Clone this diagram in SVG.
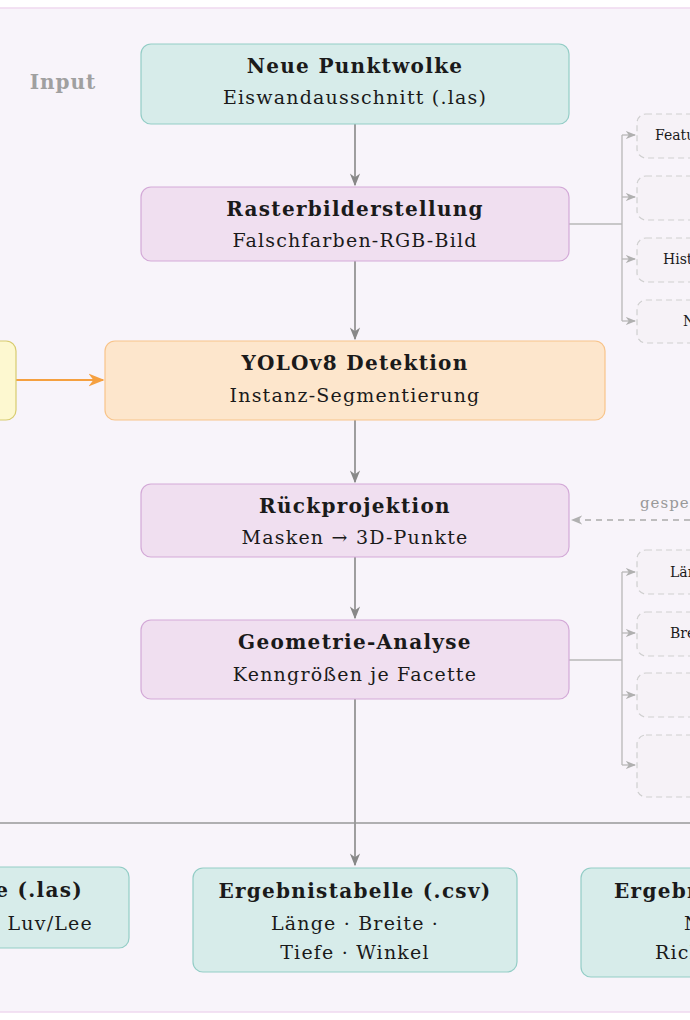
<svg xmlns="http://www.w3.org/2000/svg" width="690" height="1020" viewBox="0 0 690 1020">
<defs>
<style>
text{font-family:"DejaVu Serif","Liberation Serif",serif;fill:#1a1a1a}
.t{font-size:20px;font-weight:bold;text-anchor:middle;letter-spacing:1.3px}
.s{font-size:19px;text-anchor:middle;letter-spacing:1.2px}
.sm{font-size:14px}
.teal{fill:#d7ecea;stroke:#93cdc6;stroke-width:1.2}
.lil{fill:#f0dff0;stroke:#d3a9d7;stroke-width:1.2}
.dash{fill:#f6f2f7;stroke:#cfcfcf;stroke-width:1.2;stroke-dasharray:6 4}
.c{stroke:#888;stroke-width:1.6;fill:none}
.g{stroke:#b8b8b8;stroke-width:1.3;fill:none}
</style>
<marker id="a" viewBox="0 0 10 10" refX="9" refY="5" markerWidth="8" markerHeight="8" orient="auto"><path d="M0,1 L10,5 L0,9 L3,5 z" fill="#888"/></marker>
<marker id="ag" viewBox="0 0 10 10" refX="9" refY="5" markerWidth="8" markerHeight="8" orient="auto"><path d="M0,1 L10,5 L0,9 L3,5 z" fill="#b0b0b0"/></marker>
<marker id="ao" viewBox="0 0 10 10" refX="9" refY="5" markerWidth="8" markerHeight="8" orient="auto"><path d="M0,1 L10,5 L0,9 L3,5 z" fill="#f5a040"/></marker>
</defs>
<rect x="0" y="0" width="690" height="1020" fill="#fff"/>
<rect x="-10" y="8" width="710" height="1004" fill="#f8f4fa" stroke="#efd9ef" stroke-width="1.5"/>
<text x="63" y="89" style="font-size:20px;font-weight:bold;fill:#a0a0a0;text-anchor:middle;letter-spacing:1px">Input</text>
<g id="connectors">
<path class="c" d="M355,124 V185" marker-end="url(#a)"/>
<path class="c" d="M355,261 V339" marker-end="url(#a)"/>
<path class="c" d="M355,420 V482" marker-end="url(#a)"/>
<path class="c" d="M355,557 V618" marker-end="url(#a)"/>
<path class="c" d="M355,699 V865" marker-end="url(#a)"/>
<path d="M0,823 H690" stroke="#999" stroke-width="1.3"/>
<path d="M16,380 H103" stroke="#f5a040" stroke-width="2" marker-end="url(#ao)"/>
<path d="M690,520 H572" stroke="#aaa" stroke-width="1.4" stroke-dasharray="6 5" marker-end="url(#ag)"/>
<text x="640" y="508" style="font-size:15px;fill:#999;letter-spacing:1px">gesperrte</text>
<path class="g" d="M569,224 H622 M622,135 V321"/>
<path class="g" d="M622,135 H635" marker-end="url(#ag)"/>
<path class="g" d="M622,197 H635" marker-end="url(#ag)"/>
<path class="g" d="M622,259 H635" marker-end="url(#ag)"/>
<path class="g" d="M622,321 H635" marker-end="url(#ag)"/>
<path class="g" d="M569,660 H622 M622,572 V765"/>
<path class="g" d="M622,572 H635" marker-end="url(#ag)"/>
<path class="g" d="M622,633 H635" marker-end="url(#ag)"/>
<path class="g" d="M622,695 H635" marker-end="url(#ag)"/>
<path class="g" d="M622,765 H635" marker-end="url(#ag)"/>
</g>
<g id="n1"><rect class="teal" x="141" y="44" width="428" height="80" rx="10"/><text class="t" x="355" y="73">Neue Punktwolke</text><text class="s" x="355" y="104">Eiswandausschnitt (.las)</text></g>
<g id="n2"><rect class="lil" x="141" y="187" width="428" height="74" rx="10"/><text class="t" x="355" y="216">Rasterbilderstellung</text><text class="s" x="355" y="247">Falschfarben-RGB-Bild</text></g>
<g id="n3"><rect x="105" y="341" width="500" height="79" rx="10" fill="#fde6cc" stroke="#f8c48a" stroke-width="1.2"/><text class="t" x="355" y="370">YOLOv8 Detektion</text><text class="s" x="355" y="402">Instanz-Segmentierung</text></g>
<g id="n4"><rect x="-20" y="341" width="36" height="79" rx="10" fill="#fdf8d0" stroke="#d8cc70" stroke-width="1.2"/></g>
<g id="n5"><rect class="lil" x="141" y="484" width="428" height="73" rx="10"/><text class="t" x="355" y="513">Rückprojektion</text><text class="s" x="355" y="544">Masken → 3D-Punkte</text></g>
<g id="n6"><rect class="lil" x="141" y="620" width="428" height="79" rx="10"/><text class="t" x="355" y="649">Geometrie-Analyse</text><text class="s" x="355" y="681">Kenngrößen je Facette</text></g>
<g id="f1"><rect class="dash" x="637" y="114" width="80" height="44" rx="9"/><text class="sm" x="655" y="140">Features</text></g>
<g id="f2"><rect class="dash" x="637" y="176" width="80" height="44" rx="9"/></g>
<g id="f3"><rect class="dash" x="637" y="238" width="80" height="44" rx="9"/><text class="sm" x="663" y="264">Histogramm</text></g>
<g id="f4"><rect class="dash" x="637" y="300" width="80" height="43" rx="9"/><text class="sm" x="683" y="326">Normierung</text></g>
<g id="g1"><rect class="dash" x="637" y="550" width="80" height="44" rx="9"/><text class="sm" x="670" y="577">Länge</text></g>
<g id="g2"><rect class="dash" x="637" y="612" width="80" height="44" rx="9"/><text class="sm" x="670" y="638">Breite</text></g>
<g id="g3"><rect class="dash" x="637" y="673" width="80" height="44" rx="9"/></g>
<g id="g4"><rect class="dash" x="637" y="735" width="80" height="62" rx="9"/></g>
<g id="o1"><rect class="teal" x="-40" y="867" width="169" height="81" rx="10"/><text x="83" y="897" style="font-size:20px;font-weight:bold;text-anchor:end;letter-spacing:1.3px">Punktwolke (.las)</text><text x="93" y="930" style="font-size:19px;text-anchor:end;letter-spacing:1.2px">Luv/Lee</text></g>
<g id="o2"><rect class="teal" x="193" y="868" width="324" height="104" rx="10"/><text class="t" x="355" y="898">Ergebnistabelle (.csv)</text><text class="s" x="355" y="930">Länge · Breite ·</text><text class="s" x="355" y="959">Tiefe · Winkel</text></g>
<g id="o3"><rect class="teal" x="581" y="868" width="160" height="109" rx="10"/><text x="614" y="898" style="font-size:20px;font-weight:bold;letter-spacing:1.3px">Ergebnisse</text><text x="684" y="930" style="font-size:19px">N</text><text x="655" y="959" style="font-size:19px;letter-spacing:1.2px">Richtung</text></g>
</svg>
